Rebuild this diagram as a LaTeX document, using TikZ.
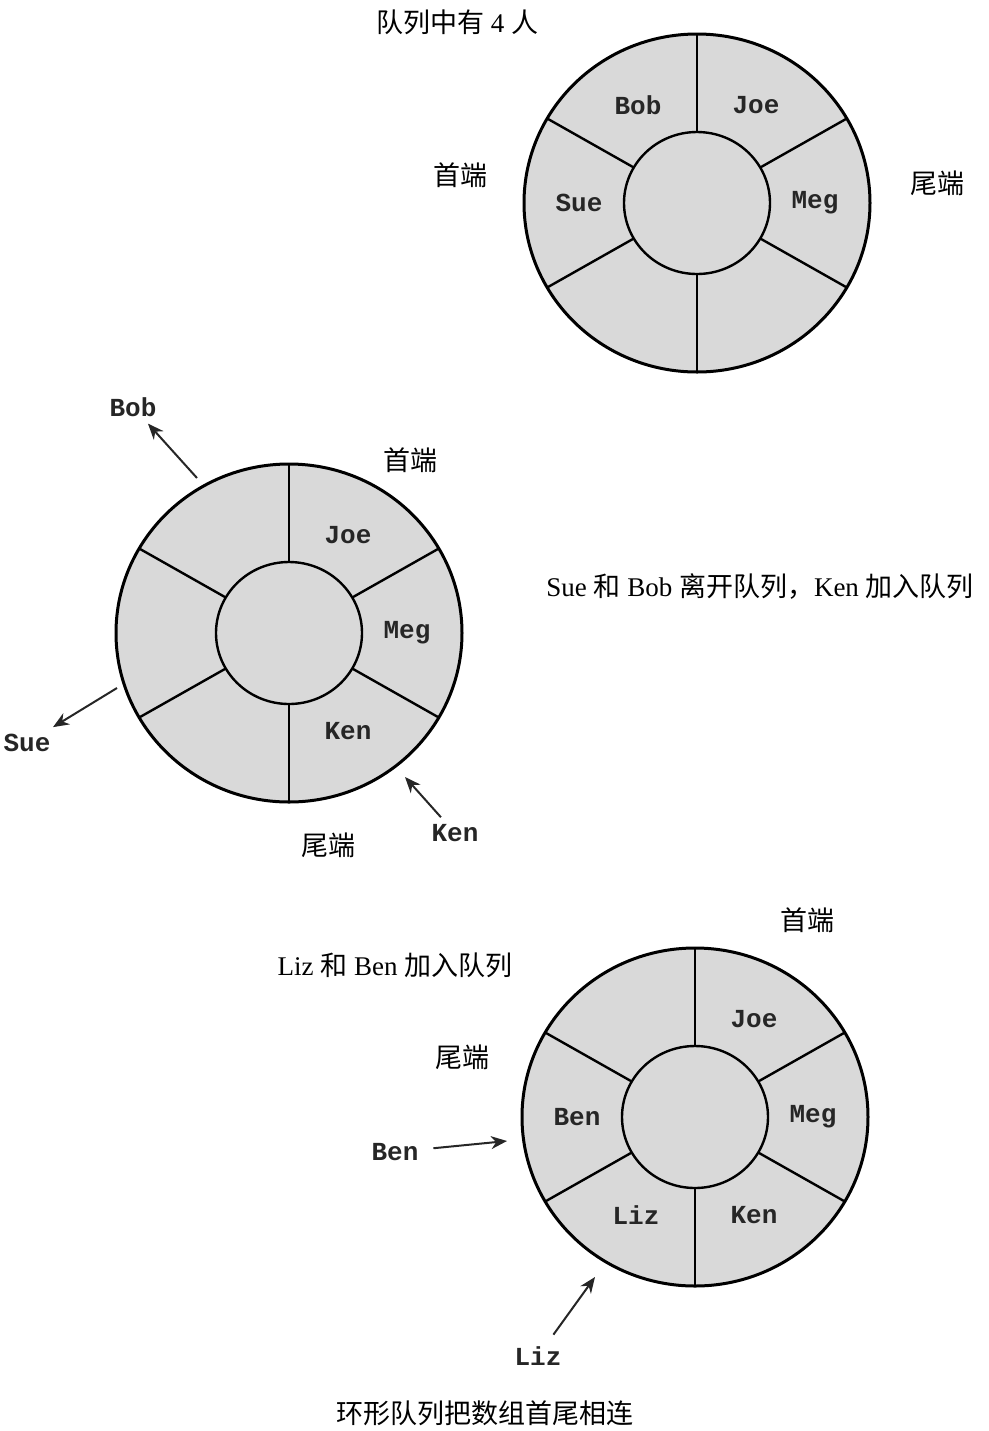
\documentclass[tikz,border=0pt]{standalone}
\usepackage{fontspec}
\setmainfont{Liberation Serif}
\setmonofont{Liberation Mono}
\newfontfamily\cjk{Noto Sans CJK SC}
\newcommand{\zh}[1]{{\cjk #1}}
\usetikzlibrary{arrows.meta}

\begin{document}
\begin{tikzpicture}[x=0.5pt, y=-0.5pt, >={Stealth[length=8pt,width=6.5pt]},
	every node/.style={font=\fontsize{13.5}{16}\selectfont},
	person/.style={font=\fontsize{13}{15}\selectfont\ttfamily\bfseries, text=black!85},
	ringline/.style={line width=1.2pt},
	pointer/.style={->, line width=1pt, black!85}]
	\useasboundingbox (0,0) rectangle (989,1431);
	\coordinate (r1) at (697,203);
	\coordinate (r2) at (289,633);
	\coordinate (r3) at (695,1117);
	\foreach \c in {r1,r2,r3} {
		\begin{scope}[shift={(\c)}]
			\draw[ringline, line width=1.5pt, fill=black!15] (0,0) ellipse [x radius=173, y radius=169];
			\draw[ringline] (0,0) ellipse [x radius=73, y radius=71];
			\foreach \a in {30,90,...,330}
				\draw[ringline] (\a:73 and 71) -- (\a:173 and 169);
		\end{scope}
	}
	\foreach \c/\a/\n in {r1/-120/Bob, r1/-60/Joe, r1/180/Sue, r1/0/Meg,
		r2/-60/Joe, r2/0/Meg, r2/60/Ken,
		r3/-60/Joe, r3/0/Meg, r3/60/Ken, r3/120/Liz, r3/180/Ben}
		\node[person] (\c\n) at ([shift={(\a:118 and 113)}]\c) {\n};

	\node (count) at (457,22) {\zh{队列中有} 4 \zh{人}};
	\node (head1) at (460,175) {\zh{首端}};
	\node (tail1) at (937,183) {\zh{尾端}};

	\node (step2) at (760,586) {Sue \zh{和} Bob \zh{离开队列，}Ken \zh{加入队列}};
	\node (head2) at (410,460) {\zh{首端}};
	\node (tail2) at (328,845) {\zh{尾端}};
	\node[person] (bobout) at (133,407) {Bob};
	\node[person] (sueout) at (27,743) {Sue};
	\node[person] (kenin) at (455,833) {Ken};
	\coordinate (bobgap) at (197,478);
	\coordinate (suegap) at (117,688);
	\coordinate (kengap) at (405,777);
	\draw[pointer] (bobgap) -- (bobout);
	\draw[pointer] (suegap) -- (sueout);
	\draw[pointer] (kenin) -- (kengap);

	\node (head3) at (807,920) {\zh{首端}};
	\node (step3) at (395,965) {Liz \zh{和} Ben \zh{加入队列}};
	\node (tail3) at (462,1057) {\zh{尾端}};
	\node[person] (benin) at (395,1152) {Ben};
	\node[person] (lizin) at (538,1356) {Liz};
	\coordinate (bengap) at (507,1141);
	\coordinate (lizgap) at (595,1277);
	\draw[pointer, shorten <=4pt] (benin) -- (bengap);
	\draw[pointer, shorten <=3pt] (lizin) -- (lizgap);
	\node (caption) at (485,1413) {\zh{环形队列把数组首尾相连}};
\end{tikzpicture}
\end{document}
